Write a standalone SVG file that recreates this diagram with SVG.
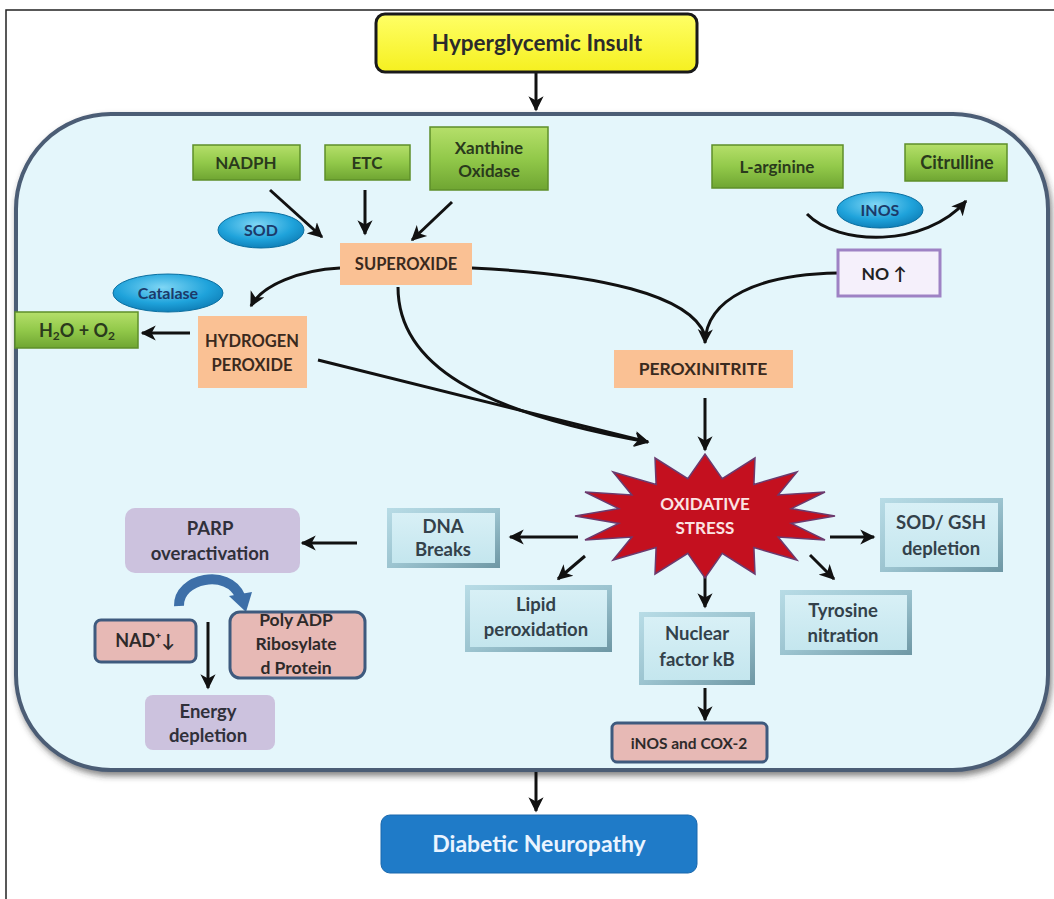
<svg xmlns="http://www.w3.org/2000/svg" width="1054" height="899" viewBox="0 0 1054 899">
<defs>
<linearGradient id="gGreen" x1="0" y1="0" x2="0" y2="1"><stop offset="0" stop-color="#B5DF6A"/><stop offset="0.5" stop-color="#92C94A"/><stop offset="1" stop-color="#6FA532"/></linearGradient>
<radialGradient id="gCyan" cx="0.45" cy="0.35" r="0.7"><stop offset="0" stop-color="#7FD6F5"/><stop offset="0.6" stop-color="#1FA3DB"/><stop offset="1" stop-color="#0C7AB3"/></radialGradient>
<linearGradient id="gYellow" x1="0" y1="0" x2="0" y2="1"><stop offset="0" stop-color="#FFFF66"/><stop offset="1" stop-color="#F5F020"/></linearGradient>
<linearGradient id="gBev" x1="0" y1="0" x2="1" y2="1"><stop offset="0" stop-color="#B8DCE6"/><stop offset="0.5" stop-color="#9CC4D0"/><stop offset="1" stop-color="#6E97A4"/></linearGradient>
<linearGradient id="gBevIn" x1="0" y1="0" x2="0" y2="1"><stop offset="0" stop-color="#D8F0F6"/><stop offset="1" stop-color="#C4E6EE"/></linearGradient>
<marker id="ah" viewBox="0 0 12 12" refX="10" refY="6" markerWidth="5.5" markerHeight="5.5" orient="auto" markerUnits="strokeWidth"><path d="M0,0.5 L11,6 L0,11.5 L3,6 Z" fill="#111"/></marker>
<filter id="sh" x="-5%" y="-5%" width="110%" height="115%"><feDropShadow dx="2" dy="4" stdDeviation="3" flood-color="#333" flood-opacity="0.6"/></filter>
<style>
text{font-family:Lato,"Open Sans","Liberation Sans",sans-serif;font-weight:bold;text-anchor:middle;fill:#262626}
.g{fill:url(#gGreen);stroke:#5E8F2A;stroke-width:1.5}
.gt{font-size:17px;fill:#2A3A1C}
.ell{fill:url(#gCyan);stroke:#0B6FA0;stroke-width:1}
.et{font-size:16px;fill:#1B3A6A}
.or{fill:#FAC194}
.ot{font-size:16.5px;fill:#3A2A1E}
.bevo{fill:url(#gBev)}
.bevi{fill:url(#gBevIn)}
.bt{font-size:18.5px;fill:#33414A}
.lav{fill:#CCC2DE}
.lt{font-size:18.5px;fill:#30303A}
.pt{font-size:17.5px;fill:#2E2A2A}
.pk{fill:#E7B9B5;stroke:#3E5A7E;stroke-width:3}
.c{fill:none;stroke:#111;stroke-width:3;marker-end:url(#ah)}
.cn{fill:none;stroke:#111;stroke-width:3}
</style>
</defs>
<rect width="1054" height="899" fill="#fff"/>
<path d="M6,899 V10 H1054" fill="none" stroke="#222" stroke-width="1.5"/>

<g id="container">
<rect x="16" y="114" width="1032" height="656" rx="95" ry="95" fill="#E4F6FB" stroke="#4C5D75" stroke-width="4" filter="url(#sh)"/>
</g>

<g id="connectors">
<path class="c" d="M536,72 V110"/>
<path class="c" d="M536,772 V811"/>
<path class="c" d="M270,190 L322,237"/>
<path class="c" d="M365,190 V234"/>
<path class="c" d="M452,202 L412,240"/>
<path class="c" d="M340,268 C300,270 262,285 251,306"/>
<path class="c" d="M190,333 H142"/>
<path class="cn" d="M472,268 C600,274 690,295 705,335"/>
<path class="c" d="M838,273 C760,274 706,298 705,343"/>
<path class="c" d="M398,287 C398,365 480,412 648,442"/>
<path class="c" d="M318,360 L648,442"/>
<path class="c" d="M807,214 C838,246 925,248 966,201"/>
<path class="c" d="M705,398 V450"/>
<path class="c" d="M578,537 H510"/>
<path class="c" d="M357,543 H302"/>
<path class="c" d="M585,556 L558,579"/>
<path class="c" d="M705,573 V607"/>
<path class="c" d="M810,555 L834,579"/>
<path class="c" d="M830,537 H874"/>
<path class="c" d="M705,688 V720"/>
<path class="c" d="M208,622 V688"/>
<path d="M179,606 C178,578 228,568 240,596" fill="none" stroke="#3D6FA8" stroke-width="10"/>
<path d="M229,596 L252,592 L246,612 Z" fill="#3D6FA8"/>
</g>

<g id="hyperglycemic">
<rect x="376" y="14" width="321" height="58" rx="9" fill="url(#gYellow)" stroke="#1A1A1A" stroke-width="3"/>
<text x="537" y="51" style="font-size:22.5px;fill:#2B2B2B">Hyperglycemic Insult</text>
</g>

<g id="neuropathy">
<rect x="381" y="815" width="316" height="58" rx="9" fill="#1F7BC8" stroke="#1A68AD" stroke-width="1"/>
<text x="539" y="852" style="font-size:23px;fill:#EAF4FF">Diabetic Neuropathy</text>
</g>

<g id="nadph"><rect class="g" x="193" y="145" width="107" height="35"/><text class="gt" x="246" y="169">NADPH</text></g>
<g id="etc"><rect class="g" x="325" y="145" width="85" height="35"/><text class="gt" x="367" y="169">ETC</text></g>
<g id="xanthine"><rect class="g" x="430" y="127" width="118" height="63"/><text class="gt" x="489" y="154">Xanthine</text><text class="gt" x="489" y="177">Oxidase</text></g>
<g id="larginine"><rect class="g" x="712" y="145" width="131" height="43"/><text class="gt" x="777" y="173">L-arginine</text></g>
<g id="citrulline"><rect class="g" x="905" y="144" width="102" height="37"/><text class="gt" x="957" y="169" style="font-size:18px">Citrulline</text></g>
<g id="h2o"><rect class="g" x="15" y="312" width="123" height="36"/><text class="gt" x="77" y="337" style="font-size:18px">H<tspan font-size="12" dy="3">2</tspan><tspan dy="-3">O + O</tspan><tspan font-size="12" dy="3">2</tspan></text></g>

<g id="sod"><ellipse class="ell" cx="261" cy="230" rx="43" ry="18"/><text class="et" x="261" y="236">SOD</text></g>
<g id="catalase"><ellipse class="ell" cx="168" cy="293" rx="55" ry="19"/><text class="et" x="168" y="299">Catalase</text></g>
<g id="inos"><ellipse class="ell" cx="880" cy="210" rx="43" ry="18"/><text class="et" x="880" y="216">INOS</text></g>

<g id="superoxide"><rect class="or" x="340" y="243" width="132" height="42"/><text class="ot" x="406" y="270">SUPEROXIDE</text></g>
<g id="hydrogen"><rect class="or" x="198" y="316" width="109" height="72"/><text class="ot" x="252" y="347">HYDROGEN</text><text class="ot" x="252" y="371">PEROXIDE</text></g>
<g id="peroxinitrite"><rect class="or" x="614" y="350" width="179" height="38"/><text class="ot" x="703" y="375" style="font-size:17.5px">PEROXINITRITE</text></g>
<g id="no"><rect x="838" y="250" width="102" height="46" fill="#F5F0FB" stroke="#9E82C4" stroke-width="3"/><text x="884" y="280" style="font-size:17.5px;fill:#222">NO ↑</text></g>

<g id="oxidative">
<polygon points="835,516 791.3,523.4 825,540 778.1,537.1 797,560 753.9,547.6 755,574 722.2,553.3 705,578 687.8,553.3 655,574 656.1,547.6 613,560 631.9,537.1 585,540 618.7,523.4 575,516 618.7,508.6 585,492 631.9,494.9 613,472 656.1,484.4 655,458 687.8,478.7 705,454 722.2,478.7 755,458 753.9,484.4 797,472 778.1,494.9 825,492 791.3,508.6" fill="#C4101F" stroke="#6B3A6E" stroke-width="1.5"/>
<text x="705" y="510" style="font-size:17px;fill:#FBE3E3">OXIDATIVE</text>
<text x="705" y="534" style="font-size:17px;fill:#FBE3E3">STRESS</text>
</g>

<g id="dna"><rect class="bevo" x="387" y="508" width="113" height="60"/><rect class="bevi" x="392" y="513" width="103" height="50"/><text class="bt" x="443" y="533">DNA</text><text class="bt" x="443" y="556">Breaks</text></g>
<g id="lipid"><rect class="bevo" x="465" y="585" width="147" height="67"/><rect class="bevi" x="470" y="590" width="137" height="57"/><text class="bt" x="536" y="611">Lipid</text><text class="bt" x="536" y="636">peroxidation</text></g>
<g id="nuclear"><rect class="bevo" x="639" y="612" width="116" height="73"/><rect class="bevi" x="644" y="617" width="106" height="63"/><text class="bt" x="697" y="640">Nuclear</text><text class="bt" x="697" y="666">factor kB</text></g>
<g id="tyrosine"><rect class="bevo" x="780" y="590" width="132" height="65"/><rect class="bevi" x="785" y="595" width="122" height="55"/><text class="bt" x="843" y="617">Tyrosine</text><text class="bt" x="843" y="642">nitration</text></g>
<g id="sodgsh"><rect class="bevo" x="880" y="498" width="123" height="74"/><rect class="bevi" x="885" y="503" width="113" height="64"/><text class="bt" x="941" y="529">SOD/ GSH</text><text class="bt" x="941" y="555">depletion</text></g>

<g id="inoscox"><rect class="pk" x="612" y="723" width="155" height="39" rx="5"/><text x="689" y="749" style="font-size:15.5px;fill:#2E2A2A">iNOS and COX-2</text></g>

<g id="parp"><rect class="lav" x="125" y="508" width="175" height="65" rx="10"/><text class="lt" x="210" y="535">PARP</text><text class="lt" x="210" y="560">overactivation</text></g>
<g id="nad"><rect class="pk" x="95" y="620" width="101" height="42" rx="6"/><text class="pt" x="145" y="647" style="font-size:18px">NAD⁺↓</text></g>
<g id="polyadp"><rect class="pk" x="230" y="612" width="135" height="66" rx="10"/><text class="pt" x="296" y="626">Poly ADP</text><text class="pt" x="296" y="650">Ribosylate</text><text class="pt" x="296" y="674">d Protein</text></g>
<g id="energy"><rect class="lav" x="145" y="695" width="130" height="55" rx="8"/><text class="lt" x="208" y="718">Energy</text><text class="lt" x="208" y="742">depletion</text></g>
</svg>
